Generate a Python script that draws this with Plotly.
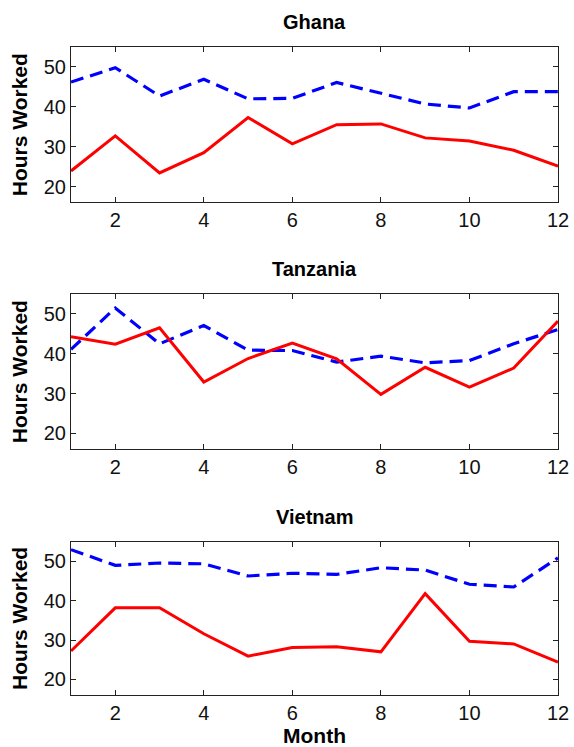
import plotly.graph_objects as go

months = list(range(1, 13))
countries = ["Ghana", "Tanzania", "Vietnam"]

ghana_dashed = [46.2, 49.8, 42.7, 46.9, 42.0, 42.1, 46.1, 43.5, 40.7, 39.7, 43.8, 43.8]
ghana_solid = [23.9, 32.7, 23.4, 28.5, 37.3, 30.7, 35.5, 35.7, 32.2, 31.4, 29.1, 25.1]

tanzania_dashed = [41.1, 51.5, 42.5, 47.1, 40.9, 40.8, 37.9, 39.4, 37.7, 38.3, 42.5, 46.1]
tanzania_solid = [44.3, 42.4, 46.5, 32.9, 38.8, 42.7, 38.7, 29.8, 36.6, 31.6, 36.4, 48.2]

vietnam_dashed = [53.0, 49.0, 49.6, 49.4, 46.3, 47.0, 46.7, 48.4, 47.8, 44.2, 43.5, 50.9]
vietnam_solid = [27.2, 38.2, 38.2, 31.6, 25.9, 28.1, 28.3, 27.0, 41.8, 29.7, 29.0, 24.4]

x_ticks = [2, 4, 6, 8, 10, 12]
y_ticks = [20, 30, 40, 50]

series = [(ghana_dashed, ghana_solid), (tanzania_dashed, tanzania_solid), (vietnam_dashed, vietnam_solid)]
domains = [[0.7601, 1.0], [0.3793, 0.6187], [0.0, 0.2364]]
title_y = [1.0386, 0.6573, 0.2749]

fig = go.Figure()
font_family = "Liberation Sans, Arial, sans-serif"

for i, (dashed, solid) in enumerate(series):
    n = i + 1
    xa = "x" if n == 1 else f"x{n}"
    ya = "y" if n == 1 else f"y{n}"
    fig.add_trace(go.Scatter(x=months, y=dashed, mode="lines", xaxis=xa, yaxis=ya,
                             line=dict(color="#0000FF", width=3.2, dash="13px,7px"), showlegend=False))
    fig.add_trace(go.Scatter(x=months, y=solid, mode="lines", xaxis=xa, yaxis=ya,
                             line=dict(color="#FF0000", width=3), showlegend=False))
    axis_common = dict(showline=True, linecolor="#222222", linewidth=1, mirror="ticks",
                       ticks="inside", ticklen=5, tickcolor="#222222", showgrid=False, zeroline=False,
                       automargin=False,
                       tickfont=dict(family=font_family, size=20, color="#111111"))
    xkey = "xaxis" if n == 1 else f"xaxis{n}"
    ykey = "yaxis" if n == 1 else f"yaxis{n}"
    xdict = dict(axis_common, range=[1, 12], tickvals=x_ticks, anchor=ya, domain=[0, 1])
    if n == 3:
        xdict["title"] = dict(text="<b>Month</b>", font=dict(family=font_family, size=21, color="#000000"), standoff=0)
    ydict = dict(axis_common, range=[16, 55], tickvals=y_ticks, anchor=xa, domain=domains[i],
                 title=dict(text="<b>Hours Worked</b>", font=dict(family=font_family, size=21, color="#000000"), standoff=10))
    fig.update_layout({xkey: xdict, ykey: ydict})
    fig.add_annotation(text=f"<b>{countries[i]}</b>", x=0.5, y=title_y[i], xref="paper", yref="paper",
                       showarrow=False, xanchor="center", yanchor="middle",
                       font=dict(family=font_family, size=20, color="#000000"))

fig.update_layout(width=574, height=747, margin=dict(l=70.7, r=15.7, t=46.7, b=51.7),
                  plot_bgcolor="white", paper_bgcolor="white")

fig.write_html("out.html", config={"displayModeBar": False},
               post_script="document.body.style.margin='0';document.body.style.overflow='hidden';")
